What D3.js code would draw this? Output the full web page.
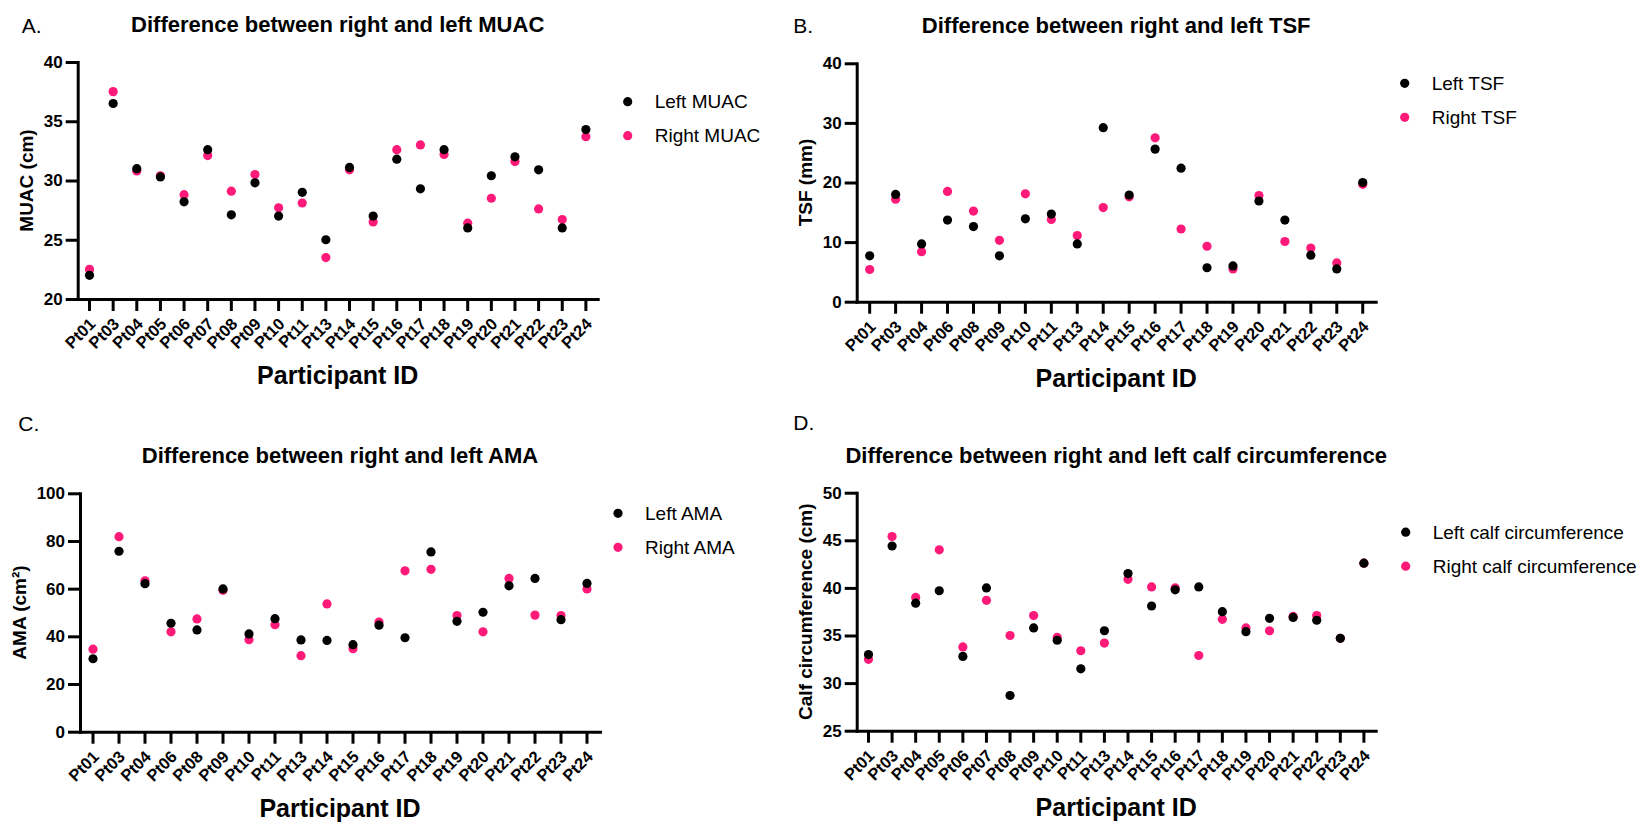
<!DOCTYPE html>
<html>
<head>
<meta charset="utf-8">
<script src="https://cdn.jsdelivr.net/npm/d3@7"></script>
<style>
  html, body { margin: 0; padding: 0; background: #fff; }
  svg { display: block; font-family: "Liberation Sans", Arial, Helvetica, sans-serif; }
</style>
</head>
<body>
<svg id="chart" width="1639" height="822"></svg>
<script>
// ---- Participant IDs ----
const idsAll  = ["Pt01","Pt03","Pt04","Pt05","Pt06","Pt07","Pt08","Pt09","Pt10","Pt11","Pt13",
                 "Pt14","Pt15","Pt16","Pt17","Pt18","Pt19","Pt20","Pt21","Pt22","Pt23","Pt24"];
const idsSkin = ["Pt01","Pt03","Pt04","Pt06","Pt08","Pt09","Pt10","Pt11","Pt13","Pt14",
                 "Pt15","Pt16","Pt17","Pt18","Pt19","Pt20","Pt21","Pt22","Pt23","Pt24"];

// ---- Mid-upper arm circumference (cm) ----
const muacLeft  = [22.0,36.5,31.0,30.3,28.2,32.6,27.1,29.8,27.0,29.0,25.0,31.1,27.0,31.8,29.3,32.6,26.0,30.4,32.0,30.9,26.0,34.3];
const muacRight = [22.5,37.5,30.8,30.4,28.8,32.1,29.1,30.5,27.7,28.1,23.5,30.9,26.5,32.6,33.0,32.2,26.4,28.5,31.6,27.6,26.7,33.7];
const muacTicks = [20,25,30,35,40];

// ---- Triceps skinfold (mm) ----
const tsfLeft  = [7.7,18.0,9.7,13.7,12.6,7.7,13.9,14.7,9.7,29.2,17.9,25.6,22.4,5.7,6.0,16.9,13.7,7.8,5.5,20.0];
const tsfRight = [5.4,17.2,8.4,18.5,15.2,10.3,18.1,13.8,11.1,15.8,17.6,27.5,12.2,9.3,5.5,17.8,10.1,9.0,6.5,19.7];
const tsfTicks = [0,10,20,30,40];

// ---- Arm muscle area (cm²) ----
const amaLeft  = [30.6,75.7,62.1,45.5,42.7,59.9,41.0,47.4,38.5,38.3,36.5,44.7,39.4,75.4,46.3,50.1,61.2,64.3,47.0,62.2];
const amaRight = [34.6,81.8,63.3,41.9,47.3,59.3,38.6,44.9,31.9,53.6,34.8,46.0,67.5,68.1,48.7,41.9,64.3,48.9,48.7,59.9];
const amaTicks = [0,20,40,60,80,100];

// ---- Calf circumference (cm) ----
const calfLeft  = [33.0,44.4,38.4,39.7,32.8,40.0,28.7,35.8,34.5,31.5,35.5,41.5,38.1,39.8,40.1,37.5,35.4,36.8,36.9,36.6,34.7,42.6];
const calfRight = [32.5,45.4,39.0,44.0,33.8,38.7,35.0,37.1,34.8,33.4,34.2,40.9,40.1,40.0,32.9,36.7,35.8,35.5,37.0,37.1,34.7,42.6];
const calfTicks = [25,30,35,40,45,50];

// ---- Text ----
const panelLetters = ["A.","B.","C.","D."];
const panelTitles = [
  "Difference between right and left MUAC",
  "Difference between right and left TSF",
  "Difference between right and left AMA",
  "Difference between right and left calf circumference"
];
const yLabels = ["MUAC (cm)","TSF (mm)","AMA (cm\u00B2)","Calf circumference (cm)"];
const leftNames  = ["Left MUAC","Left TSF","Left AMA","Left calf circumference"];
const rightNames = ["Right MUAC","Right TSF","Right AMA","Right calf circumference"];
const xLabel = "Participant ID";

const LEFT_COLOR = "#000000";
const RIGHT_COLOR = "#FF1A79";

// Panel definitions: data references plus the layout of each plot frame
const panels = [
  { ids: idsAll,  left: muacLeft, right: muacRight, ticks: muacTicks, domain: [20,40],
    x0: 77.7,  x1: 597.7,  y0: 62,    y1: 299,   letter: [21.7, 33.3], legendDx: 30, legendDy: 39.7 },
  { ids: idsSkin, left: tsfLeft,  right: tsfRight,  ticks: tsfTicks,  domain: [0,40],
    x0: 856.7, x1: 1375.7, y0: 63.3,  y1: 301.7, letter: [793.3, 33.3], legendDx: 29, legendDy: 20 },
  { ids: idsSkin, left: amaLeft,  right: amaRight,  ticks: amaTicks,  domain: [0,100],
    x0: 80,    x1: 600,    y0: 493.3, y1: 731.7, letter: [18.3, 430.7], legendDx: 18, legendDy: 20 },
  { ids: idsAll,  left: calfLeft, right: calfRight, ticks: calfTicks, domain: [25,50],
    x0: 856.7, x1: 1375.7, y0: 492.7, y1: 730.7, letter: [793.3, 430.3], legendDx: 30, legendDy: 39.5 }
];

const svg = d3.select("#chart");

function drawPanel(p, i) {
  const g = svg.append("g").attr("class", "panel");

  const x = d3.scaleBand().domain(p.ids).range([p.x0, p.x1]);
  const y = d3.scaleLinear().domain(p.domain).range([p.y1, p.y0]);
  const cx = (p.x0 + p.x1) / 2;

  // panel letter
  g.append("text")
    .attr("x", p.letter[0]).attr("y", p.letter[1])
    .style("font-size", "21px")
    .text(panelLetters[i]);

  // title
  g.append("text")
    .attr("x", cx).attr("y", p.y0 - 30)
    .attr("text-anchor", "middle")
    .style("font-size", "22px").style("font-weight", "bold")
    .text(panelTitles[i]);

  // y axis
  const yAxis = g.append("g")
    .attr("transform", `translate(${p.x0},0)`)
    .call(d3.axisLeft(y).tickValues(p.ticks).tickSize(12).tickSizeOuter(0).tickPadding(3));
  yAxis.selectAll("text")
    .style("font-size", "17px").style("font-weight", "bold")
    .attr("font-family", null);

  // x axis
  const xAxis = g.append("g")
    .attr("transform", `translate(0,${p.y1})`)
    .call(d3.axisBottom(x).tickSize(12).tickSizeOuter(0));
  xAxis.selectAll(".tick text")
    .attr("x", 0).attr("y", 0).attr("dy", "0.35em")
    .attr("transform", "translate(3,22) rotate(-45)")
    .style("text-anchor", "end")
    .style("font-size", "16.5px").style("font-weight", "bold")
    .attr("font-family", null);

  [yAxis, xAxis].forEach(ax => {
    ax.attr("font-family", null).attr("font-size", null);
    ax.select(".domain").attr("stroke", "#000").attr("stroke-width", 3).attr("stroke-linecap", "square");
    ax.selectAll(".tick line").attr("stroke", "#000").attr("stroke-width", 3);
  });

  // y axis label, placed just outside the tick labels
  const bb = yAxis.node().getBBox();
  const lx = p.x0 + bb.x - 17;
  g.append("text")
    .attr("transform", `translate(${lx},${(p.y0 + p.y1) / 2}) rotate(-90)`)
    .attr("text-anchor", "middle").attr("dy", "0.35em")
    .style("font-size", "19px").style("font-weight", "bold")
    .text(yLabels[i]);

  // x axis label
  g.append("text")
    .attr("x", cx).attr("y", p.y1 + 85)
    .attr("text-anchor", "middle")
    .style("font-size", "25px").style("font-weight", "bold")
    .text(xLabel);

  // points: right side first, left side on top
  const r = 4.6;
  g.append("g").selectAll("circle")
    .data(p.ids.map((id, k) => ({ id, v: p.right[k] })))
    .join("circle")
    .attr("cx", d => x(d.id) + x.bandwidth() / 2)
    .attr("cy", d => y(d.v))
    .attr("r", r).attr("fill", RIGHT_COLOR);
  g.append("g").selectAll("circle")
    .data(p.ids.map((id, k) => ({ id, v: p.left[k] })))
    .join("circle")
    .attr("cx", d => x(d.id) + x.bandwidth() / 2)
    .attr("cy", d => y(d.v))
    .attr("r", r).attr("fill", LEFT_COLOR);

  // legend
  const leg = g.append("g")
    .attr("transform", `translate(${p.x1 + p.legendDx},${p.y0 + p.legendDy})`);
  [[leftNames[i], LEFT_COLOR], [rightNames[i], RIGHT_COLOR]].forEach(([name, col], k) => {
    leg.append("circle").attr("cx", 0).attr("cy", k * 34).attr("r", r).attr("fill", col);
    leg.append("text").attr("x", 27).attr("y", k * 34).attr("dy", "0.35em")
      .style("font-size", "19px").text(name);
  });
}

panels.forEach(drawPanel);
</script>
</body>
</html>
